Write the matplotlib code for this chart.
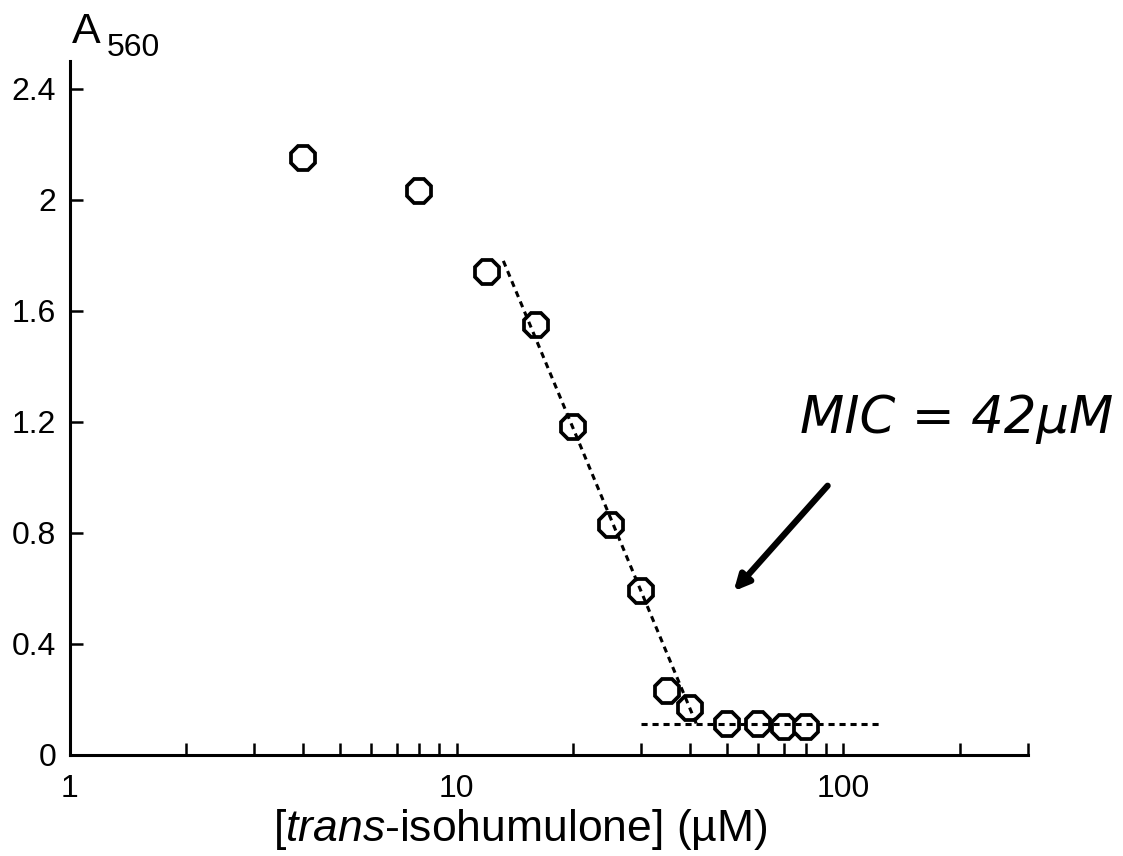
import matplotlib
matplotlib.use("Agg")
import matplotlib.pyplot as plt
from matplotlib.ticker import FixedLocator, FixedFormatter, LogLocator, NullFormatter

# Growth (A560) versus trans-isohumulone concentration (uM)
conc = [4, 8, 12, 16, 20, 25, 30, 35, 40, 50, 60, 70, 80]
a560 = [2.15, 2.03, 1.74, 1.55, 1.18, 0.83, 0.59, 0.23, 0.17, 0.11, 0.11, 0.10, 0.10]

slope_x = [13.2, 42]
slope_y = [1.78, 0.10]
base_x = [30, 125]
base_y = [0.11, 0.11]

mic_value = 42
arrow_tail = (91, 0.97)
arrow_tip = (52, 0.59)

y_ticks = [0, 0.4, 0.8, 1.2, 1.6, 2, 2.4]
y_tick_labels = ["0", "0.4", "0.8", "1.2", "1.6", "2", "2.4"]
x_ticks = [1, 10, 100]
x_tick_labels = ["1", "10", "100"]

plt.rcParams["font.family"] = ["Liberation Sans", "DejaVu Sans"]
plt.rcParams["mathtext.fontset"] = "custom"
plt.rcParams["mathtext.rm"] = "Liberation Sans"
plt.rcParams["mathtext.it"] = "Liberation Sans:italic"

fig = plt.figure(figsize=(11.23, 8.56), dpi=100)
ax = fig.add_axes([0.0623, 0.118, 0.8531, 0.8107])

ax.set_xscale("log")
ax.set_xlim(1, 300)
ax.set_ylim(0, 2.5)

dash = (0, (2.0, 1.6))
ax.plot(slope_x, slope_y, color="black", lw=2.2, linestyle=dash, zorder=4)
ax.plot(base_x, base_y, color="black", lw=2.2, linestyle=dash, zorder=4)
ax.plot(conc, a560, linestyle="none", marker="8", markersize=18,
        markerfacecolor="white", markeredgecolor="black", markeredgewidth=2.7, zorder=3)

ax.annotate("", xy=arrow_tip, xytext=arrow_tail,
            arrowprops=dict(arrowstyle="-|>,head_length=0.45,head_width=0.22",
                            lw=4.5, color="black", shrinkA=0, shrinkB=0,
                            mutation_scale=20, capstyle="round"))
ax.text(196, 1.21, f"MIC = {mic_value}\u00b5M", ha="center", va="center",
        fontsize=37, style="italic", family=["DejaVu Sans"], color="black")

for side in ("top", "right"):
    ax.spines[side].set_visible(False)
for side in ("left", "bottom"):
    ax.spines[side].set_linewidth(2.2)

ax.yaxis.set_major_locator(FixedLocator(y_ticks))
ax.yaxis.set_major_formatter(FixedFormatter(y_tick_labels))
ax.xaxis.set_major_locator(FixedLocator(x_ticks))
ax.xaxis.set_major_formatter(FixedFormatter(x_tick_labels))
ax.xaxis.set_minor_locator(LogLocator(base=10, subs=range(2, 10)))
ax.xaxis.set_minor_formatter(NullFormatter())

ax.tick_params(axis="both", which="both", direction="in", width=1.8, length=9,
               labelsize=23, colors="black")
ax.tick_params(axis="y", pad=10)
ax.tick_params(axis="x", pad=14)

fig.text(0.463, 0.017, "[$\\it{trans}$-isohumulone] (\u00b5M)", ha="center", va="baseline",
         fontsize=32)
fig.text(0.064, 0.950, "A", ha="left", va="baseline", fontsize=31)
fig.text(0.0955, 0.934, "560", ha="left", va="baseline", fontsize=23)

fig.savefig("out.png", dpi=100)
